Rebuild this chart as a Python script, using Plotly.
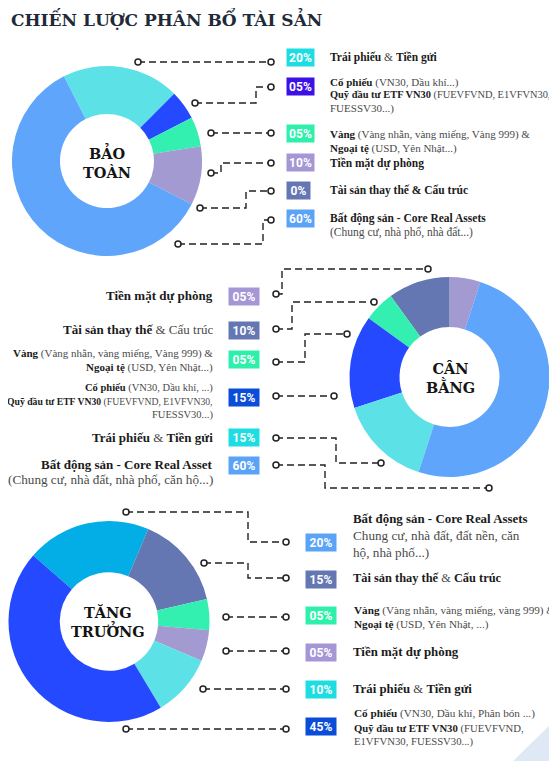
import plotly.graph_objects as go

W, H = 557, 761          # reference page size
OFF = 8                  # default page margin round the plot
FW, FH = W - OFF, H - OFF

# ---------------- data ----------------
bt_cats = ["Trái phiếu & Tiền gửi", "Cổ phiếu & Quỹ ETF VN30", "Vàng & Ngoại tệ",
           "Tiền mặt dự phòng", "Tài sản thay thế & Cấu trúc", "Bất động sản"]
bt_values = [20, 5, 5, 10, 0, 60]
bt_badges = ["20%", "05%", "05%", "10%", "0%", "60%"]

cb_cats = ["Tiền mặt dự phòng", "Tài sản thay thế & Cấu trúc", "Vàng & Ngoại tệ",
           "Cổ phiếu & Quỹ ETF VN30", "Trái phiếu & Tiền gửi", "Bất động sản"]
cb_values = [5, 10, 5, 15, 15, 50]
cb_badges = ["05%", "10%", "05%", "15%", "15%", "60%"]

tt_cats = ["Bất động sản", "Tài sản thay thế & Cấu trúc", "Vàng & Ngoại tệ",
           "Tiền mặt dự phòng", "Trái phiếu & Tiền gửi", "Cổ phiếu & Quỹ ETF VN30"]
tt_values = [20, 15, 5, 5, 10, 45]
tt_badges = ["20%", "15%", "05%", "05%", "10%", "45%"]

# ---------------- styles ----------------
C_CYAN, C_BLUE, C_GREEN, C_LAV, C_SLATE, C_LB, C_SKY = (
    "#5ce1e6", "#2449ff", "#33efb0", "#a29ad0", "#6577b3", "#5ea5fb", "#03ade6")
B_CYAN, B_INDIGO, B_GREEN, B_LAV, B_SLATE, B_LB, B_BLUE = (
    "#1edde2", "#3d10e6", "#2ef0ab", "#a597d5", "#6577b3", "#5aa3f7", "#0b4dd8")

SERIF = "Liberation Serif"
HEAD = "DejaVu Serif"
BADGE_FONT = "Roboto"
DARK = "#1b1b1b"
GREY = "#4a4a4a"

fig = go.Figure()


def dom(cx, cy, r):
    return dict(x=[(cx - r - OFF) / FW, (cx + r - OFF) / FW],
                y=[1 - (cy + r - OFF) / FH, 1 - (cy - r - OFF) / FH])


def add_pie(cats, vals, cols, cx, cy, r, hole, rot, direction):
    fig.add_trace(go.Pie(labels=cats, values=vals, marker=dict(colors=cols, line=dict(width=0)),
                         hole=hole, sort=False, direction=direction, rotation=rot,
                         textinfo="none", hoverinfo="label+percent", showlegend=False,
                         domain=dom(cx, cy, r)))


add_pie(bt_cats, bt_values, [C_CYAN, C_BLUE, C_GREEN, C_LAV, C_SLATE, C_LB],
        107, 161, 95, 0.495, -27, "clockwise")
add_pie(cb_cats, cb_values, [C_LAV, C_SLATE, C_GREEN, C_BLUE, C_CYAN, C_LB],
        449.5, 377, 100, 0.5, 0, "counterclockwise")
add_pie(tt_cats, tt_values, [C_SKY, C_SLATE, C_GREEN, C_LAV, C_CYAN, C_BLUE],
        109, 621.5, 100.5, 0.49, -49, "clockwise")

# ---------------- connectors ----------------
connectors = [
    [(138, 62), (271, 62)],
    [(195, 103), (256, 103), (256, 87), (271, 87)],
    [(211, 133), (271, 133)],
    [(211, 173), (221, 173), (221, 163), (271, 163)],
    [(200, 208), (246, 208), (246, 191), (271, 191)],
    [(178, 244), (263, 244), (263, 220), (271, 220)],
    [(276, 294), (282, 294), (282, 269), (428, 269)],
    [(276, 329), (292, 329), (292, 302), (374, 302)],
    [(276, 362), (305, 362), (305, 334), (347, 334)],
    [(276, 396), (334, 396)],
    [(276, 438), (336, 438), (336, 463), (381, 463)],
    [(276, 465), (325, 465), (325, 488), (489, 488)],
    [(126, 512), (248, 512), (248, 542), (286, 542)],
    [(204, 563), (248, 563), (248, 578), (286, 578)],
    [(226, 617), (286, 617)],
    [(226, 651), (286, 651)],
    [(203, 689), (286, 689)],
    [(126, 729), (286, 729)],
]
lx, ly, cxs, cys = [], [], [], []
for path in connectors:
    for (x, y) in path:
        lx.append(x)
        ly.append(y)
    lx.append(None)
    ly.append(None)
    cxs += [path[0][0], path[-1][0]]
    cys += [path[0][1], path[-1][1]]

fig.add_trace(go.Scatter(x=lx, y=ly, mode="lines", hoverinfo="skip", showlegend=False,
                         line=dict(color="#222222", width=1.4, dash="7px,4px")))
fig.add_trace(go.Scatter(x=cxs, y=cys, mode="markers", hoverinfo="skip", showlegend=False,
                         marker=dict(symbol="circle", size=6, color="white",
                                     line=dict(color="#222222", width=1.5))))

ann = []


def badge(text, cx, cy, w, color):
    ann.append(dict(x=cx, y=cy, xref="x", yref="y", text="<b>%s</b>" % text, showarrow=False,
                    xanchor="center", yanchor="middle", width=w, height=15, borderpad=1,
                    bgcolor=color, font=dict(family=BADGE_FONT, size=12, color="white")))


def label(x, y, html, size, anchor="left"):
    ann.append(dict(x=x, y=y, xref="x", yref="y", text=html, showarrow=False,
                    xanchor=anchor, yanchor="middle",
                    font=dict(family=SERIF, size=size, color=GREY)))


def b(t):
    return "<b><span style='color:%s'>%s</span></b>" % (DARK, t)


# section 1 badges
for t, y, col in zip(bt_badges, [57, 86, 133, 162, 190, 218],
                     [B_CYAN, B_INDIGO, B_GREEN, B_LAV, B_SLATE, B_LB]):
    badge(t, 300.5 if t != "0%" else 298.5, y, 25 if t != "0%" else 21, col)
# section 2 badges
for t, y, col in zip(cb_badges, [296, 330, 359, 397, 437, 465],
                     [B_LAV, B_SLATE, B_GREEN, B_BLUE, B_CYAN, B_LB]):
    badge(t, 244, y, 28, col)
# section 3 badges
for t, y, col in zip(tt_badges, [542, 579, 615, 652, 689, 726],
                     [B_LB, B_SLATE, B_GREEN, B_LAV, B_CYAN, B_BLUE]):
    badge(t, 321, y, 28, col)

# section 1 labels
label(328, 57, b("Trái phiếu") + " & " + b("Tiền gửi"), 11.5)
label(328, 82, b("Cổ phiếu") + " (VN30, Dầu khí...)", 11)
label(328, 95, b("Quỹ đầu tư ETF VN30") + " (FUEVFVND, E1VFVN30,", 10.4)
label(328, 108, "FUESSV30...)", 11)
label(328, 134, b("Vàng") + " (Vàng nhẫn, vàng miếng, Vàng 999) &", 11)
label(328, 148, b("Ngoại tệ") + " (USD, Yên Nhật...)", 11)
label(328, 163, b("Tiền mặt dự phòng"), 11.5)
label(328, 190, b("Tài sản thay thế & Cấu trúc"), 11.5)
label(328, 218, b("Bất động sản - Core Real Assets"), 11.5)
label(328, 232, "(Chung cư, nhà phố, nhà đất...)", 11.5)

# section 2 labels
label(215, 295, b("Tiền mặt dự phòng"), 13, "right")
label(215, 329, b("Tài sản thay thế") + " & Cấu trúc", 13, "right")
label(215, 353, b("Vàng") + " (Vàng nhẫn, vàng miếng, Vàng 999) &", 11, "right")
label(215, 367, b("Ngoại tệ") + " (USD, Yên Nhật...)", 11, "right")
label(215, 388, b("Cổ phiếu") + " (VN30, Dầu khí, ...)", 10.5, "right")
label(215, 402, b("Quỹ đầu tư ETF VN30") + " (FUEVFVND, E1VFVN30,", 9.7, "right")
label(215, 415, "FUESSV30...)", 10.5, "right")
label(215, 437, b("Trái phiếu") + " & " + b("Tiền gửi"), 13, "right")
label(215, 464, b("Bất động sản - Core Real Asset"), 13, "right")
label(215, 479, "(Chung cư, nhà đất, nhà phố, căn hộ...)", 13.2, "right")

# section 3 labels
label(351, 519, b("Bất động sản - Core Real Assets"), 12.9)
label(351, 535, "Chung cư, nhà đất, đất nền, căn", 13.2)
label(351, 552, "hộ, nhà phố...)", 13.2)
label(351, 578, b("Tài sản thay thế") + " & " + b("Cấu trúc"), 12.4)
label(352, 610, b("Vàng") + " (Vàng nhẫn, vàng miếng, vàng 999) &", 11.2)
label(352, 624, b("Ngoại tệ") + " (USD, Yên Nhật, ...)", 11.2)
label(351, 652, b("Tiền mặt dự phòng"), 12.9)
label(351, 689, b("Trái phiếu") + " & " + b("Tiền gửi"), 12.8)
label(352, 713, b("Cổ phiếu") + " (VN30, Dầu khí, Phân bón ...)", 11.2)
label(352, 728, b("Quỹ đầu tư ETF VN30") + " (FUEVFVND,", 10.7)
label(352, 741, "E1VFVN30, FUESSV30...)", 10.7)

# centre texts
for txt, x, y in [("BẢO<br>TOÀN", 107, 162), ("CÂN<br>BẰNG", 450, 378), ("TĂNG<br>TRƯỞNG", 108, 622)]:
    ann.append(dict(x=x, y=y, xref="x", yref="y", text="<b>%s</b>" % txt, showarrow=False,
                    xanchor="center", yanchor="middle",
                    font=dict(family=HEAD, size=14.5, color="#141414")))

# title
ann.append(dict(x=8.5, y=18, xref="x", yref="y", text="<b>CHIẾN LƯỢC PHÂN BỔ TÀI SẢN</b>",
                showarrow=False, xanchor="left", yanchor="middle",
                font=dict(family=HEAD, size=17, color="#1e2a38")))

fig.update_layout(
    width=FW, height=FH, autosize=False,
    margin=dict(l=0, r=0, t=0, b=0),
    paper_bgcolor="white", plot_bgcolor="white",
    xaxis=dict(range=[OFF, OFF + FW], visible=False, fixedrange=True, domain=[0, 1]),
    yaxis=dict(range=[OFF + FH, OFF], visible=False, fixedrange=True, domain=[0, 1]),
    annotations=ann,
    shapes=[dict(type="path", xref="x", yref="y", path="M 557 718 L 513 761 L 557 761 Z",
                 fillcolor="#dfe9f6", line=dict(width=0), layer="below")],
)

fig.write_html("out.html")
